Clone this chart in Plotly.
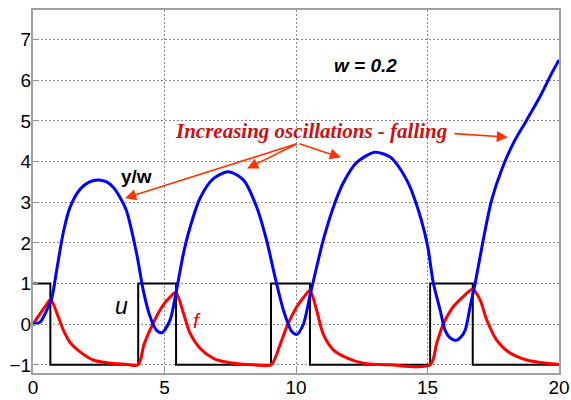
import plotly.graph_objects as go

# ---- data ----
t_y = [0.0, 0.27, 0.52, 0.71, 0.90, 1.16, 1.41, 1.79, 2.15, 2.48, 2.80, 3.05, 3.30, 3.56, 3.94,
       4.19, 4.45, 4.70, 4.90, 5.21, 5.46, 5.72, 5.97, 6.35, 6.86, 7.43, 8.0, 8.5, 8.88,
       9.2, 9.52, 9.84, 10.03, 10.28, 10.53, 10.79, 11.04, 11.42, 11.80, 12.31, 13.0,
       13.57, 13.76, 14.27, 14.65, 14.9, 15.03, 15.22, 15.48, 15.67, 15.85, 16.08, 16.25,
       16.43, 16.62, 16.81, 17.0, 17.19, 17.44, 17.82, 18.26, 18.77, 19.28, 19.72, 20.0]
y_w = [0.0, 0.05, 0.34, 0.63, 1.33, 2.28, 2.88, 3.32, 3.50, 3.55, 3.50, 3.37, 3.13, 2.78, 1.74,
       0.84, 0.19, -0.15, -0.21, 0.10, 0.85, 1.74, 2.38, 3.10, 3.58, 3.75, 3.55, 2.89, 2.07,
       1.17, 0.35, -0.18, -0.25, 0.0, 0.70, 1.42, 2.08, 2.88, 3.48, 3.98, 4.23,
       4.12, 4.0, 3.47, 2.81, 2.23, 1.83, 1.02, 0.35, -0.15, -0.33, -0.40, -0.33,
       -0.15, 0.43, 1.0, 1.66, 2.31, 3.06, 3.80, 4.45, 5.02, 5.60, 6.17, 6.50]

t_f = [0.0, 0.27, 0.5, 0.67, 0.96, 1.15, 1.28, 1.41, 1.79, 2.29, 2.8, 3.18, 3.6, 4.0,
       4.22, 4.45, 4.57, 4.70, 4.95, 5.2, 5.43, 5.72, 5.97, 6.35, 6.86, 7.49, 8.4, 9.05,
       9.39, 9.65, 10.03, 10.3, 10.53, 10.79, 11.04, 11.42, 11.93, 12.56, 13.57, 15.1,
       15.35, 15.60, 15.98, 16.36, 16.72, 17.0, 17.25, 17.63, 18.14, 18.77, 19.53, 20.0]
f_v = [0.0, 0.26, 0.47, 0.61, 0.18, -0.14, -0.31, -0.45, -0.68, -0.88, -0.95, -0.97, -0.99, -1.0,
       -0.5, -0.14, 0.02, 0.2, 0.47, 0.66, 0.78, 0.27, -0.22, -0.59, -0.84, -0.95, -1.0, -1.0,
       -0.51, -0.06, 0.43, 0.67, 0.83, 0.33, -0.25, -0.63, -0.83, -0.96, -1.0, -1.0,
       -0.47, 0.0, 0.43, 0.68, 0.86, 0.6, 0.11, -0.39, -0.71, -0.88, -0.96, -0.99]

t_u = [0, 0.66, 4.0, 5.44, 9.05, 10.53, 15.1, 16.72, 20]
u_v = [1, -1, 1, -1, 1, -1, 1, -1, -1]

x_ticks = [0, 5, 10, 15, 20]
y_ticks = [-1, 0, 1, 2, 3, 4, 5, 6, 7]

fig = go.Figure()
fig.add_trace(go.Scatter(x=t_u, y=u_v, mode="lines", line=dict(color="black", width=2, shape="hv"),
                         showlegend=False, hoverinfo="skip"))
fig.add_trace(go.Scatter(x=t_f, y=f_v, mode="lines",
                         line=dict(color="#ff0000", width=3, shape="spline", smoothing=0.8),
                         showlegend=False))
fig.add_trace(go.Scatter(x=t_y, y=y_w, mode="lines",
                         line=dict(color="#0000ff", width=3, shape="spline", smoothing=0.8),
                         showlegend=False))

arrow_col = "#ff3300"
tail = (10.08, 4.45)
heads = [(3.50, 3.10), (8.14, 3.83), (11.71, 4.10)]
for hx, hy in heads:
    fig.add_annotation(x=hx, y=hy, ax=tail[0], ay=tail[1], axref="x", ayref="y",
                       xref="x", yref="y", text="", showarrow=True, arrowhead=2,
                       arrowsize=1.4, arrowwidth=1.6, arrowcolor=arrow_col, standoff=0)
fig.add_annotation(x=18.06, y=4.60, ax=15.97, ay=4.69, axref="x", ayref="y",
                   xref="x", yref="y", text="", showarrow=True, arrowhead=2,
                   arrowsize=1.4, arrowwidth=1.6, arrowcolor=arrow_col, standoff=0)

fig.add_annotation(x=10.57, y=4.76, text="<b><i>Increasing oscillations - falling</i></b>",
                   showarrow=False, font=dict(family="Liberation Serif", size=21, color="#cc1010"))
fig.add_annotation(x=12.66, y=6.36, text="<b><i>w = 0.2</i></b>", showarrow=False,
                   font=dict(family="Liberation Sans", size=19, color="black"))
fig.add_annotation(x=3.92, y=3.63, text="<b>y/w</b>", showarrow=False,
                   font=dict(family="Liberation Sans", size=19, color="black"))
fig.add_annotation(x=3.35, y=0.45, text="<i>u</i>", showarrow=False,
                   font=dict(family="Liberation Sans", size=23, color="black"))
fig.add_annotation(x=6.24, y=0.08, text="<i>f</i>", showarrow=False,
                   font=dict(family="Liberation Sans", size=21, color="#ff0000"))

axis_common = dict(showline=True, mirror=True, linecolor="#a0a0a0", linewidth=2,
                   showgrid=True, gridcolor="#8a8a8a", griddash="2px,2px", gridwidth=1,
                   zeroline=False, ticks="inside", ticklen=5, tickcolor="#909090",
                   tickfont=dict(family="Liberation Sans", size=19, color="black"),
                   automargin=False)
fig.update_xaxes(range=[0, 20], tickvals=x_ticks, ticklabelstandoff=-4, **axis_common)
fig.update_yaxes(range=[-1.2, 7.73], tickvals=y_ticks, ticklabelstandoff=-4, **axis_common)
fig.update_layout(width=571, height=400, margin=dict(l=33, r=12, t=10, b=27),
                  paper_bgcolor="white", plot_bgcolor="white", showlegend=False)
fig.write_html("out.html")
